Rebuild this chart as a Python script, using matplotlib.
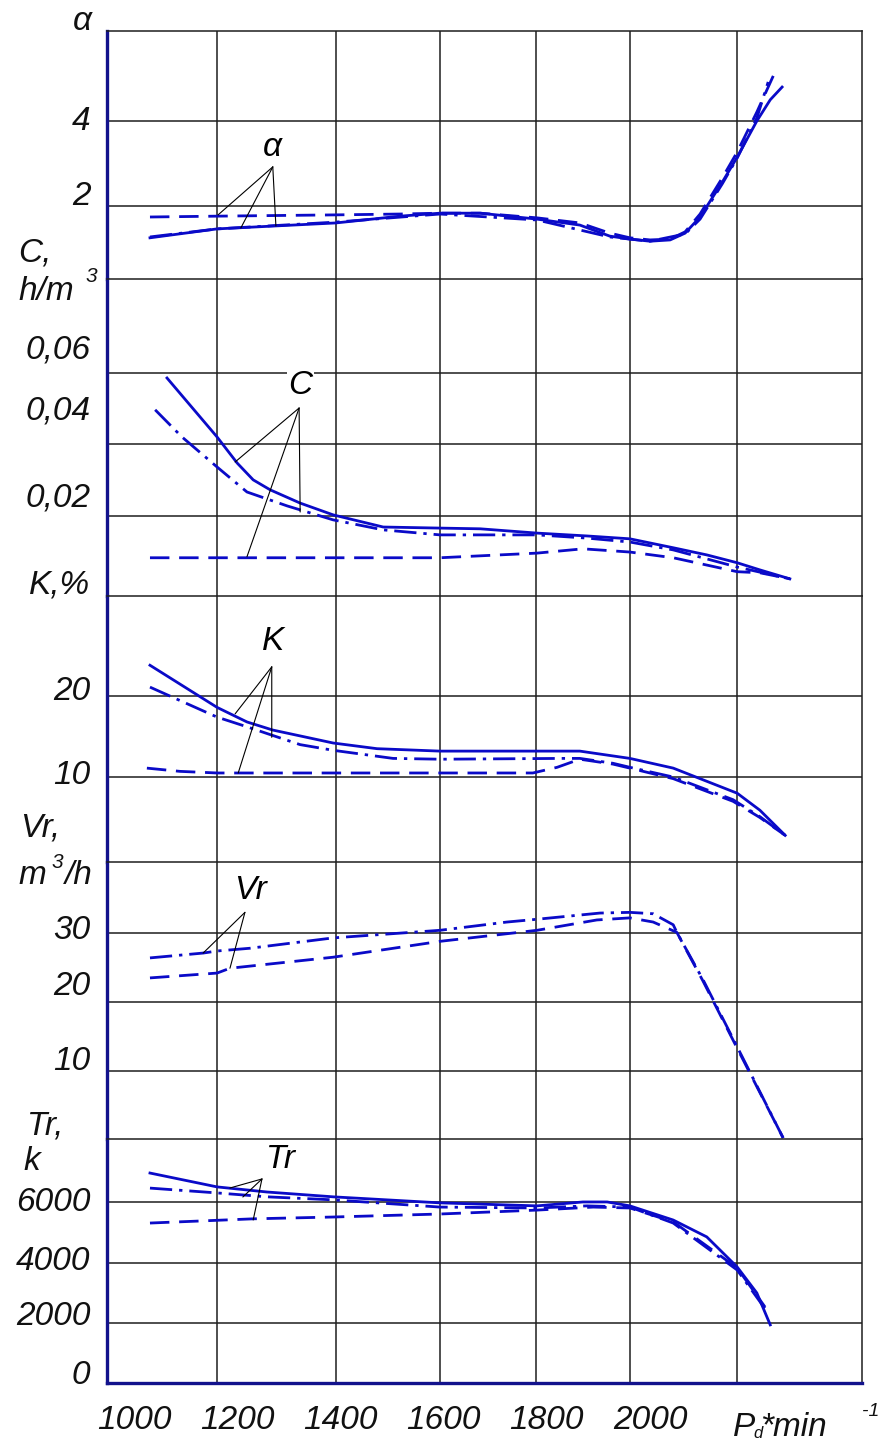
import matplotlib
matplotlib.use("Agg")
import matplotlib.pyplot as plt
from matplotlib.transforms import ScaledTranslation

plt.rcParams['font.family'] = ['Liberation Sans', 'DejaVu Sans']
plt.rcParams['font.style'] = 'italic'

# x positions in rpm (P_d * min^-1)
x_ticks = [1000, 1200, 1400, 1600, 1800, 2000]
x_grid = [1161, 1391, 1594, 1780, 1962, 2169]

# alpha
a_x_solid = [1031, 1161, 1275, 1391, 1516, 1593, 1671, 1781, 1864, 1922, 1961, 2000, 2039, 2068, 2097, 2140, 2169, 2207, 2233, 2256]
a_solid = [1.25, 1.46, 1.53, 1.60, 1.76, 1.83, 1.83, 1.69, 1.55, 1.29, 1.22, 1.17, 1.20, 1.36, 1.74, 2.56, 3.15, 4.00, 4.50, 4.80]
a_x_dashdot = [1031, 1161, 1391, 1593, 1781, 1922, 2000, 2068, 2097, 2140, 2169, 2207, 2229]
a_dashdot = [1.27, 1.46, 1.62, 1.81, 1.67, 1.27, 1.17, 1.34, 1.69, 2.52, 3.13, 4.07, 4.92]
a_x_dashed = [1031, 1161, 1391, 1516, 1593, 1671, 1781, 1864, 1922, 1961, 2000, 2039, 2068, 2097, 2140, 2169, 2207, 2244]
a_dashed = [1.74, 1.76, 1.79, 1.81, 1.83, 1.83, 1.72, 1.60, 1.36, 1.25, 1.20, 1.22, 1.39, 1.81, 2.66, 3.27, 4.21, 5.20]

# C, h/m3
c_x_solid = [1064, 1161, 1200, 1231, 1264, 1322, 1386, 1483, 1593, 1671, 1781, 1878, 1961, 2045, 2110, 2169, 2213, 2271]
c_solid = [0.0586, 0.0421, 0.0348, 0.0301, 0.0273, 0.0236, 0.0203, 0.0169, 0.0166, 0.0164, 0.0152, 0.0144, 0.0136, 0.0111, 0.0091, 0.0069, 0.0049, 0.0024]
c_x_dashdot = [1041, 1093, 1161, 1219, 1297, 1386, 1483, 1593, 1781, 1878, 1961, 2045, 2169, 2271]
c_dashdot = [0.0497, 0.0421, 0.0337, 0.0267, 0.0228, 0.0189, 0.0161, 0.0147, 0.0147, 0.0138, 0.0127, 0.0105, 0.0057, 0.0024]
c_x_dashed = [1031, 1161, 1391, 1593, 1781, 1870, 1961, 2045, 2169, 2213, 2271]
c_dashed = [0.0083, 0.0083, 0.0083, 0.0083, 0.0096, 0.0108, 0.0099, 0.0083, 0.0044, 0.0041, 0.0024]

# K, %
k_x_solid = [1031, 1161, 1219, 1269, 1386, 1471, 1593, 1864, 1961, 2045, 2169, 2213, 2262]
k_solid = [23.8, 18.6, 16.8, 15.8, 14.2, 13.5, 13.2, 13.2, 12.3, 11.1, 8.0, 5.9, 2.8]
k_x_dashdot = [1031, 1161, 1219, 1322, 1386, 1502, 1593, 1831, 1864, 1928, 1961, 2045, 2161, 2213, 2262]
k_dashdot = [21.1, 17.4, 16.2, 14.0, 13.3, 12.3, 12.2, 12.3, 12.3, 11.7, 11.2, 10.0, 7.2, 5.1, 2.8]
k_x_dashed = [1025, 1089, 1161, 1593, 1773, 1820, 1864, 1928, 1961, 2045, 2161, 2213, 2262]
k_dashed = [11.1, 10.7, 10.5, 10.5, 10.5, 11.2, 12.2, 11.6, 11.1, 9.8, 7.0, 5.0, 2.8]

# Vr, m3/h
vr_x_dashdot = [1031, 1134, 1161, 1225, 1386, 1593, 1723, 1781, 1903, 1961, 2006, 2045, 2052, 2103, 2169, 2258]
vr_dashdot = [26.4, 27.1, 27.4, 27.8, 29.3, 30.4, 31.6, 32.0, 32.9, 33.0, 32.8, 31.2, 30.1, 23.2, 13.5, 0.3]
vr_x_dashed = [1031, 1161, 1186, 1386, 1593, 1781, 1897, 1961, 2006, 2052, 2103, 2169, 2258]
vr_dashed = [23.5, 24.2, 24.9, 26.5, 28.8, 30.4, 31.9, 32.2, 31.6, 30.1, 23.0, 13.3, 0.3]

# Tr, k
tr_x_solid = [1031, 1161, 1258, 1386, 1593, 1781, 1870, 1917, 1961, 2045, 2110, 2169, 2207, 2233]
tr_solid = [6970, 6510, 6340, 6180, 5980, 5880, 6010, 6010, 5880, 5410, 4850, 3850, 2990, 1930]
tr_x_dashdot = [1031, 1161, 1258, 1386, 1593, 1781, 1878, 1961, 2045, 2169, 2229]
tr_dashdot = [6470, 6310, 6180, 6080, 5840, 5810, 5880, 5840, 5310, 3750, 2320]
tr_x_dashed = [1031, 1231, 1386, 1593, 1781, 1890, 1961, 2045, 2169, 2223]
tr_dashed = [5310, 5450, 5510, 5610, 5740, 5840, 5810, 5350, 3820, 2520]

W, H = 879, 1445
BLUE = '#0a0ac8'
AXBLUE = '#12128c'
GRID = '#1e1e1e'
SOLID = '-'
DASHDOT = (0, (8, 2.5, 1.2, 2.5))
DASHED = (0, (7, 3.5))
FS = 24

fig = plt.figure(figsize=(W / 100, H / 100), dpi=100)
left, right = 107.3, 862.3

# pixel bands of the stacked scales, y limits, ticks, label lift in px
panels = [
    (31, 279, (0.28, 6.12), [2, 4], ['2', '4'], [13, 3]),
    (279, 596, (-0.0024, 0.0863), [0.02, 0.04, 0.06], ['0,02', '0,04', '0,06'], [21, 37, 26]),
    (596, 862, (-0.49, 32.35), [10, 20], ['10', '20'], [5, 8]),
    (862, 1139, (0.15, 40.3), [10, 20, 30], ['10', '20', '30'], [13, 19, 6]),
    (1139, 1383, (0, 8100), [0, 2000, 4000, 6000], ['0', '2000', '4000', '6000'], [11, 10, 5, 3]),
]

axes = []
for i, (top, bot, ylim, yt, ytl, lift) in enumerate(panels):
    ax = fig.add_axes([left / W, 1 - bot / H, (right - left) / W, (bot - top) / H])
    ax.set_xlim(948.3, 2411.4)
    ax.set_ylim(*ylim)
    ax.set_yticks(yt)
    ax.set_yticklabels(ytl, fontsize=FS)
    ax.tick_params(axis='y', length=0, pad=12, labelcolor='#111')
    for tick, dy in zip(ax.yaxis.get_major_ticks(), lift):
        tick.label1.set_transform(tick.label1.get_transform()
                                  + ScaledTranslation(0, dy / 100, fig.dpi_scale_trans))
    ax.grid(axis='y', color=GRID, lw=1.1)
    for g in x_grid:
        ax.axvline(g, color=GRID, lw=1.1, zorder=1)
    ax.spines['left'].set_color(AXBLUE)
    ax.spines['left'].set_linewidth(2.4)
    ax.spines['right'].set_color(GRID)
    ax.spines['right'].set_linewidth(1.1)
    ax.spines['top'].set_color(GRID)
    ax.spines['top'].set_linewidth(1.1)
    ax.spines['bottom'].set_visible(i == len(panels) - 1)
    ax.set_xticks(x_ticks)
    if i == len(panels) - 1:
        ax.spines['bottom'].set_color(AXBLUE)
        ax.spines['bottom'].set_linewidth(2.4)
        ax.set_xticklabels([str(v) for v in x_ticks], fontsize=FS)
        ax.tick_params(axis='x', length=0, pad=16, labelcolor='#111')
    else:
        ax.tick_params(axis='x', length=0, labelbottom=False)
    axes.append(ax)

ax_a, ax_c, ax_k, ax_vr, ax_tr = axes
lw = 2.0


def curves(ax, series):
    for xs, ys, ls in series:
        ax.plot(xs, ys, color=BLUE, lw=lw, ls=ls, zorder=3)


curves(ax_a, [(a_x_solid, a_solid, SOLID), (a_x_dashdot, a_dashdot, DASHDOT), (a_x_dashed, a_dashed, DASHED)])
curves(ax_c, [(c_x_solid, c_solid, SOLID), (c_x_dashdot, c_dashdot, DASHDOT), (c_x_dashed, c_dashed, DASHED)])
curves(ax_k, [(k_x_solid, k_solid, SOLID), (k_x_dashdot, k_dashdot, DASHDOT), (k_x_dashed, k_dashed, DASHED)])
curves(ax_vr, [(vr_x_dashdot, vr_dashdot, DASHDOT), (vr_x_dashed, vr_dashed, DASHED)])
curves(ax_tr, [(tr_x_solid, tr_solid, SOLID), (tr_x_dashdot, tr_dashdot, DASHDOT), (tr_x_dashed, tr_dashed, DASHED)])


def callout(ax, name, text_xy, origin, targets):
    ax.text(*text_xy, name, fontsize=FS, ha='center', va='center', zorder=5,
            bbox=dict(fc='white', ec='none', pad=1))
    for t in targets:
        ax.annotate('', xy=t, xytext=origin,
                    arrowprops=dict(arrowstyle='-', color='black', lw=0.8, shrinkA=0, shrinkB=0))


callout(ax_a, 'α', (1269, 3.37), (1269, 2.92), [(1163, 1.79), (1207, 1.48), (1275, 1.53)])
callout(ax_c, 'C', (1322, 0.0566), (1320, 0.0502), [(1196, 0.0351), (1219, 0.0086), (1322, 0.0211)])
callout(ax_k, 'K', (1269, 26.7), (1267, 23.6), [(1196, 17.8), (1202, 10.5), (1267, 14.9)])
callout(ax_vr, 'Vr', (1225, 36.2), (1215, 33.0), [(1134, 27.1), (1186, 24.9)])
callout(ax_tr, 'Tr', (1283, 7404), (1248, 6773), [(1186, 6474), (1211, 6175), (1231, 5412)])


def ftext(x, y, s, size=FS, ha='left', va='center'):
    fig.text(x / W, 1 - y / H, s, fontsize=size, ha=ha, va=va, color='#111')


ftext(82, 21, 'α', ha='center')
ftext(18, 253, 'C,')
ftext(18, 292, 'h/m')
ftext(86, 277, '3', size=15)
ftext(90, 585, 'K,%', ha='right')
ftext(20, 828, 'Vr,')
ftext(18, 876, 'm')
ftext(52, 862, '3', size=15)
ftext(65, 876, '/h')
ftext(27, 1126, 'Tr,')
ftext(23, 1161, 'k')
ftext(733, 1428, 'P')
ftext(753, 1433, 'd', size=12)
ftext(760, 1428, '*min')
ftext(862, 1412, '-1', size=14)

fig.savefig('out.png', dpi=100)
